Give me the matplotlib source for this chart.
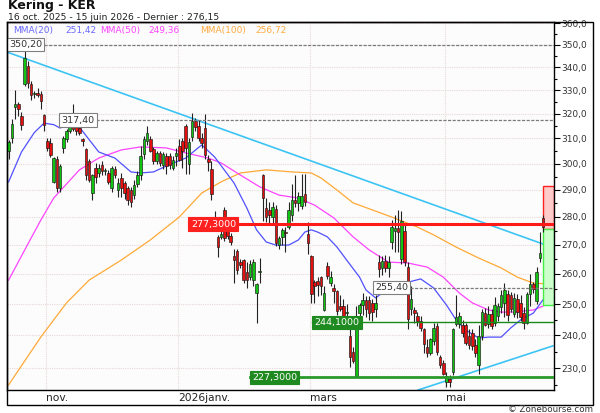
import numpy as np
import matplotlib
matplotlib.use("Agg")
import matplotlib.pyplot as plt
from matplotlib import transforms
from matplotlib.patches import Rectangle
from matplotlib.ticker import FixedLocator, FuncFormatter, NullFormatter

# Daily candles, 16 oct. 2025 -> 15 juin 2026 (trading day index 0..166)
opens = [305, 310, 323, 324, 319, 332.6, 340.5, 332.5, 328.5, 329,
         328.5, 319.5, 309, 308, 293.1, 302, 290.5, 306.2, 309.6, 313,
         315.5, 314.5, 314.3, 309.6, 305.6, 301, 288.7, 298.3, 296.5, 299.6,
         297, 296.4, 290.5, 298, 290, 294.4, 292.5, 290.5, 289.9, 288,
         292.3, 295.5, 303.6, 309, 309.6, 305.6, 301, 304.3, 299.6, 303,
         302.9, 298.3, 303, 306.9, 309, 315, 300, 310.6, 317, 315,
         310, 314.3, 302, 297.9, 280, 272.7, 272.7, 282.6, 275, 273.1,
         266.2, 267.9, 264, 264.6, 260.5, 258.8, 258.1, 253.7, 260.5, 295.5,
         283.2, 282.5, 280.1, 283, 270, 272.7, 274.5, 276.2, 280.5, 286.3,
         285, 284, 288.5, 273.8, 266, 257.3, 257.5, 258.8, 248.2, 262.8,
         257.1, 255.4, 254.3, 249.5, 249.5, 247, 239.8, 235, 227.8, 247.2,
         249.7, 251.4, 251.4, 250.3, 248.3, 264, 262, 264.5, 262, 270.9,
         275, 276, 265, 275, 262.2, 248.4, 248, 246, 244.5, 241.9,
         236.5, 234.5, 238.3, 243, 233.5, 231.5, 226, 226.8, 228.9, 243.7,
         243.5, 243.2, 243.2, 239.8, 240.8, 237.1, 230.9, 239.8, 247.2, 243.5,
         246.8, 244, 246, 249, 250.4, 253.3, 253, 246.8, 251.5, 250.4,
         247, 244, 253.3, 256.5, 251.1, 265.4, 279.5]
highs = [309.5, 318, 330, 325, 320.7, 350.2, 343, 334, 329.5, 331,
         329.5, 320, 310, 310, 302.5, 303, 300, 311, 314, 316,
         324, 317, 315.5, 310.2, 306.2, 302, 296, 300.3, 300, 300.9,
         298.5, 297.5, 299, 299, 294.4, 296.4, 293.5, 291.5, 291.2, 293.8,
         297, 306.9, 311, 315, 311, 306.5, 305, 305, 304.5, 304,
         304, 303, 306, 309.6, 310, 316, 310, 320.5, 318.5, 317.5,
         312, 319.8, 303.5, 300.9, 282, 273.5, 275, 283.5, 276.5, 274,
         268.5, 268.5, 265, 265, 263.9, 264.6, 264.9, 257, 265.5, 296,
         287, 285.5, 285.5, 284.5, 273, 276, 276.2, 285.5, 292, 295.5,
         289, 296, 296, 278, 266.3, 258, 259, 259.3, 256, 263.9,
         261, 256.5, 254.5, 253, 251.7, 250, 241.9, 236.5, 249.5, 250.3,
         253.7, 252.5, 252.5, 251.7, 252.8, 266.5, 266, 266.5, 266, 279,
         280.5, 282.3, 282, 277, 264, 256, 249, 247.5, 246.2, 242.4,
         239, 239.2, 243.9, 244, 234, 232.5, 228.9, 228, 242.4, 253,
         247.5, 245, 244, 241.9, 242, 239, 243.2, 248.5, 248.8, 249.5,
         248.5, 252.4, 250.5, 254.5, 257.1, 254.5, 254, 253.5, 253.3, 253,
         249, 254, 260, 257.4, 262.2, 274.5, 280.5]
lows = [301.7, 308, 318, 319, 313.6, 332, 331, 326, 326.5, 327,
        322, 313, 305, 302.5, 292.5, 289.3, 289, 304, 308.5, 312,
        313, 311.5, 311.5, 306.9, 293.8, 293, 286.1, 292.5, 295, 295.5,
        295.5, 292, 289.3, 294.5, 287.4, 287.4, 286.5, 284.3, 283.6, 286.4,
        291, 293.8, 302, 307.5, 304.5, 300, 300, 299, 297.8, 296,
        298, 297.5, 299, 300.9, 298.5, 296, 296, 309, 313, 309,
        306, 302, 297, 286.1, 275.5, 265.7, 272, 271.5, 272, 270,
        257.1, 259.8, 262, 257.1, 255.4, 258, 256.1, 244, 257.1, 278.5,
        278.1, 277.5, 277.7, 269.5, 268.5, 269.8, 267.4, 275.5, 278.5, 283.5,
        282, 282.8, 284, 266.7, 250.4, 250.4, 252.7, 253, 247.7, 258.3,
        256, 250.4, 246.6, 247.7, 244.6, 245.5, 230.5, 231.5, 227.3, 244.6,
        246.6, 245.8, 245, 244.6, 245.8, 258.8, 259.5, 260.5, 259, 268.5,
        267.5, 267.4, 263.5, 262.5, 242, 246.4, 243.9, 243, 241.4, 234.7,
        233.5, 234, 237.1, 234, 230, 228, 224.6, 224.6, 228, 243,
        242.5, 239.5, 237, 235.8, 235.5, 233.5, 228.4, 238.5, 242.9, 242.5,
        242, 243, 244.6, 247.2, 245.8, 244.5, 247.5, 245.8, 245.5, 244.5,
        242, 243.5, 249.3, 253.7, 250, 264, 274.5]
closes = [308.6, 316, 324, 322, 315.6, 344, 333, 328, 329, 328,
          325.6, 315.6, 306.2, 303.4, 302.2, 290.5, 299, 310.2, 312.9, 315,
          314, 313, 312.3, 308.9, 295.5, 293.8, 295.5, 294.9, 298.5, 297,
          297.5, 293.1, 298.3, 295.5, 292.5, 290.5, 288.7, 286.1, 285.5, 291.8,
          295.5, 302.9, 309.6, 312.3, 304.9, 300.9, 304.3, 300.3, 303.6, 299,
          299.6, 301.6, 304, 301.6, 305, 306.2, 308.5, 317, 314.5, 310.2,
          308, 303.5, 300.5, 288.6, 277, 269.1, 273.8, 272.5, 273, 270.9,
          264.6, 261.3, 263, 257.8, 257.8, 263.2, 263.9, 256.5, 261, 287,
          280.1, 280.5, 283.6, 270.5, 272.3, 275.2, 274, 282.6, 286, 285,
          287.8, 287.7, 285.5, 270.6, 253.4, 255.9, 256.2, 256, 253.7, 259.4,
          258.8, 254.3, 247.7, 248.4, 245.8, 247.5, 233.3, 232.3, 243.5, 249.7,
          251.4, 248.4, 247.2, 247.5, 250.3, 261.5, 264.5, 262, 264, 276.2,
          275.8, 274.5, 278.4, 264, 245.3, 251.7, 247, 244.5, 242.4, 237.3,
          234.5, 238.8, 242.4, 234.8, 230.9, 228.4, 227.6, 226, 241.9, 245.8,
          246.2, 240.8, 237.6, 237.1, 236.6, 234.5, 239.8, 247.5, 243.2, 246.8,
          243, 249.7, 249.5, 253, 254.5, 246.6, 248.4, 252, 247.3, 245.8,
          243.8, 253.3, 256.5, 254.8, 260.5, 267.1, 276.15]

# moving averages (day index, value)
ma20_idx = [0, 4, 8, 11, 14, 16, 18, 21, 24, 28, 33, 38, 41, 45, 49, 55, 60,
            64, 70, 74, 77, 80, 83, 87, 90, 92, 94, 96, 99, 102, 105, 109, 111,
            114, 116, 119, 123, 128, 132, 136, 139, 142, 146, 149, 153, 156,
            159, 163, 166]
ma20_val = [293.0, 304.6, 312.4, 316.2, 315.6, 314.2, 315.5, 316.3, 311.2,
            304.6, 302.2, 296.8, 296.4, 296.8, 299.1, 302.2, 307.4, 302.6,
            292.6, 283.2, 275.3, 271.0, 269.9, 269.9, 271.7, 274.5, 275.3,
            274.5, 272.8, 269.2, 264.7, 258.9, 254.6, 252.0, 253.6, 255.3,
            256.9, 258.3, 255.3, 249.7, 244.9, 241.7, 239.2, 239.5, 239.5,
            242.4, 244.9, 247.1, 251.42]
ma50_idx = [0, 5, 10, 14, 22, 28, 35, 41, 49, 55, 62, 66, 72, 78, 84, 90, 95,
            101, 107, 112, 118, 124, 130, 135, 140, 144, 149, 153, 157, 163, 166]
ma50_val = [257.9, 268.2, 278.8, 286.9, 297.6, 302.2, 305.4, 306.6, 306.2,
            304.2, 302.2, 300.3, 295.6, 291.1, 288.0, 286.9, 284.3, 279.6,
            272.8, 268.2, 264.0, 263.7, 262.3, 258.9, 253.6, 250.4, 248.1,
            247.4, 247.4, 248.1, 249.36]
ma100_idx = [0, 10, 18, 25, 35, 44, 53, 60, 66, 72, 80, 88, 94, 97, 102, 107,
             113, 119, 127, 132, 139, 146, 153, 158, 163, 166]
ma100_val = [225.1, 239.5, 250.4, 257.9, 264.7, 271.7, 279.9, 288.8, 293.0,
             296.4, 297.6, 296.8, 296.4, 294.5, 289.9, 285.1, 282.5, 279.9,
             276.3, 273.5, 269.2, 265.4, 262.0, 258.9, 256.9, 256.72]

# trend lines (two anchor points each)
down_idx = [-0.5, 169.4]
down_val = [346.8, 268.9]
up_idx = [127.2, 169.1]
up_val = [223.6, 236.8]

# horizontal levels
level_vals = [350.20, 317.40, 255.40, 277.30, 244.10, 227.30]
level_txt = ["350,20", "317,40", "255,40", "277,3000", "244,1000", "227,3000"]

# zones on the last bar
zone_top, zone_mid, zone_low = 291.6, 275.6, 249.8

month_idx = [12, 53, 94, 136]
month_lbl = ["nov.", "2026janv.", "mars", "mai"]

W, H = 600, 413
fig = plt.figure(figsize=(6, 4.13), dpi=100)
fig.patch.set_facecolor("white")


def fx(px):
    return px / W


def fy(py):
    return 1 - py / H


ax = fig.add_axes([fx(7), fy(390), (554 - 7) / W, (390 - 22) / H])
ax.set_facecolor("#fcfcfc")
ax.set_yscale("log")
xmax = 169.4
ax.set_xlim(-0.5, xmax)
ax.set_ylim(223.6, 360.6)

# grid
for v in range(230, 361, 10):
    ax.axhline(v, color="#ead8d8", lw=0.8, ls=(0, (1, 1)), zorder=0)
for m in month_idx:
    ax.axvline(m - 0.5, color="#ead8d8", lw=0.8, ls=(0, (1, 1)), zorder=0)

# moving averages and trend lines
ax.plot(ma100_idx, ma100_val, color="#ffa936", lw=0.9, zorder=2)
ax.plot(ma50_idx, ma50_val, color="#ff44ff", lw=0.9, zorder=2)
ax.plot(ma20_idx, ma20_val, color="#5050ff", lw=0.9, zorder=2)
ax.plot(down_idx, down_val, color="#3cc4f4", lw=1.2, zorder=2)
ax.plot(up_idx, up_val, color="#3cc4f4", lw=1.2, zorder=2)

# zones
n = len(closes)
ax.add_patch(Rectangle((n - 1, zone_mid), xmax - (n - 1), zone_top - zone_mid,
                       fc="#ffcaca", ec="#ff2020", lw=1, zorder=2))
ax.add_patch(Rectangle((n - 1, zone_low), xmax - (n - 1), zone_mid - zone_low,
                       fc="#ccffcc", ec="#44ee44", lw=1, zorder=2))

# candles
idx = np.arange(n)
o = np.array(opens)
c = np.array(closes)
up = c >= o
ax.vlines(idx, lows, highs, color="#222222", lw=0.8, zorder=3)
ax.bar(idx[up], np.maximum(c - o, 0.15)[up], bottom=o[up], width=0.8,
       color="#12c412", edgecolor="#1a1a1a", lw=0.45, zorder=4)
ax.bar(idx[~up], np.maximum(o - c, 0.15)[~up], bottom=c[~up], width=0.8,
       color="#e41010", edgecolor="#1a1a1a", lw=0.45, zorder=4)

# levels with tags
label_idx = [0.1, 16.3, 113.8, 56.6, 94.9, 75.6]
styles = [
    dict(color="#7a7a7a", lw=0.9, ls=(0, (2.5, 1.2))),
    dict(color="#7a7a7a", lw=0.9, ls=(0, (2.5, 1.2))),
    dict(color="#7a7a7a", lw=0.9, ls=(0, (2.5, 1.2))),
    dict(color="#ff1a1a", lw=2.2, ls="-"),
    dict(color="#1a8a1a", lw=1.0, ls="-"),
    dict(color="#2a9a2a", lw=2.0, ls="-"),
]
tags = [
    dict(fc="white", ec="#808080", tc="#333333"),
    dict(fc="white", ec="#808080", tc="#333333"),
    dict(fc="white", ec="#808080", tc="#333333"),
    dict(fc="#ff2020", ec="#ff2020", tc="white"),
    dict(fc="#1f8a1f", ec="#1f8a1f", tc="white"),
    dict(fc="#1f8a1f", ec="#1f8a1f", tc="white"),
]
for v, t, li, st, tg in zip(level_vals, level_txt, label_idx, styles, tags):
    ax.plot([li - 0.6, xmax], [v, v], zorder=5, **st)
    ax.text(li, v, t, ha="left", va="center", fontsize=6.8, color=tg["tc"],
            zorder=6,
            bbox=dict(boxstyle="square,pad=0.25", fc=tg["fc"], ec=tg["ec"],
                      lw=0.8))

# legend
leg = [("MMA(20)", "251,42", "#6a6aff"), ("MMA(50)", "249,36", "#ff44ff"),
       ("MMA(100)", "256,72", "#ffaa40")]
lx = [(13, 65), (100, 148), (200, 255)]
for (name, val, col), (x1, x2) in zip(leg, lx):
    ax.text((x1 - 7) / 547, (390 - 31) / 368, name, transform=ax.transAxes,
            ha="left", va="center", fontsize=6.5, color=col)
    ax.text((x2 - 7) / 547, (390 - 31) / 368, val, transform=ax.transAxes,
            ha="left", va="center", fontsize=6.5, color=col)

# axes styling
for sp in ax.spines.values():
    sp.set_color("black")
    sp.set_linewidth(1)
ax.yaxis.tick_right()
ax.yaxis.set_major_locator(FixedLocator(range(230, 361, 10)))
ax.yaxis.set_minor_locator(FixedLocator(range(225, 360, 10)))
ax.yaxis.set_major_formatter(FuncFormatter(lambda v, p: f"{v:.1f}".replace(".", ",")))
ax.yaxis.set_minor_formatter(NullFormatter())
ax.tick_params(axis="y", which="major", direction="out", length=4, width=0.8,
               labelsize=6.5, pad=1.5, labelcolor="#333333")
ax.tick_params(axis="y", which="minor", direction="out", length=2.5, width=0.8)
ax.set_xticks([])

# month labels under the plot
trans = transforms.blended_transform_factory(ax.transData, ax.transAxes)
for m, lbl in zip(month_idx, month_lbl):
    ax.text(m - 0.3, -8 / 368, lbl, transform=trans, ha="left", va="center",
            fontsize=7.7, color="#222222")

# outer frame
fig.add_artist(Rectangle((fx(7), fy(405)), (593 - 7) / W, (405 - 22) / H,
                         transform=fig.transFigure, fill=False, ec="black",
                         lw=1))

# titles
fig.text(fx(8), fy(9.5), "Kering - KER", fontsize=9, fontweight="bold",
         va="baseline", ha="left", color="#111111")
fig.text(fx(8), fy(20), "16 oct. 2025 - 15 juin 2026 - Dernier : 276,15",
         fontsize=6.7, va="baseline", ha="left", color="#222222")
fig.text(fx(593), fy(405.5), "\u00a9 Zonebourse.com", fontsize=6.3, va="top",
         ha="right", color="#333333")

fig.savefig("out.png", dpi=100)
